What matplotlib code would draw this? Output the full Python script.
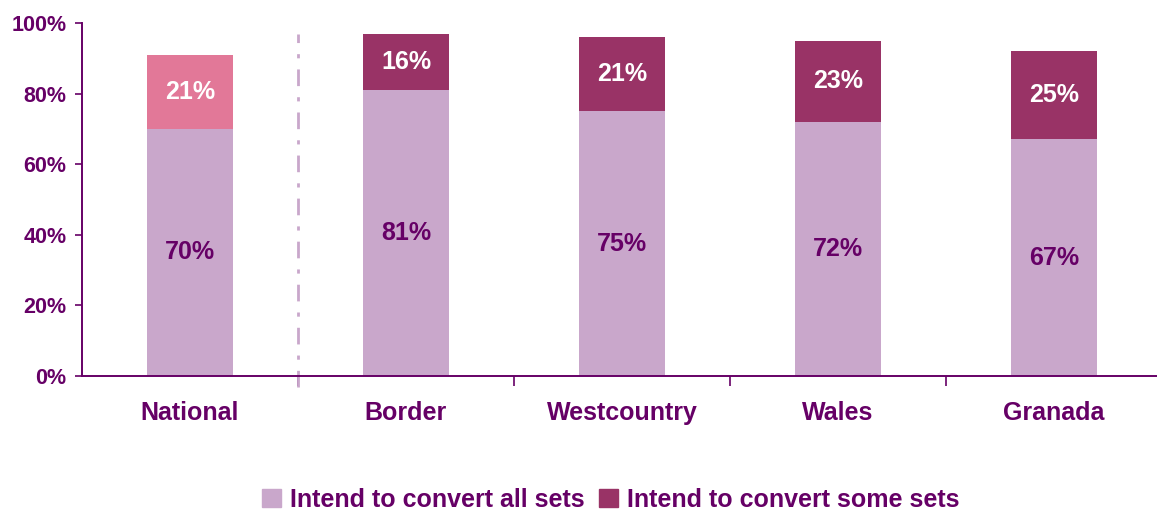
import matplotlib.pyplot as plt
from matplotlib.patches import Patch

plt.rcParams['font.family'] = ['Liberation Sans', 'DejaVu Sans']

# data
regions = ['National', 'Border', 'Westcountry', 'Wales', 'Granada']
convert_all = [70, 81, 75, 72, 67]
convert_some = [21, 16, 21, 23, 25]
y_ticks = [0, 20, 40, 60, 80, 100]

c_text = '#660066'
c_all = '#C9A7CB'
c_some = '#993366'
c_some_nat = '#E27898'

fig = plt.figure(figsize=(11.57, 5.11), dpi=100)
ax = fig.add_axes([82 / 1157, 135 / 511, 1080 / 1157, 353 / 511])

x = list(range(len(regions)))
some_cols = [c_some_nat] + [c_some] * (len(regions) - 1)
ax.bar(x, convert_all, width=0.4, color=c_all)
ax.bar(x, convert_some, width=0.4, bottom=convert_all, color=some_cols)

for xi, a, s in zip(x, convert_all, convert_some):
    ax.text(xi, a / 2, f'{a}%', ha='center', va='center', color=c_text,
            fontsize=18, fontweight='bold')
    ax.text(xi, a + s / 2, f'{s}%', ha='center', va='center', color='white',
            fontsize=18, fontweight='bold')

# separator between national and regions
ax.plot([0.5, 0.5], [-3, 97], color=c_all, lw=2, ls=(0, (6, 4, 1.5, 4)), clip_on=False)

ax.set_xlim(-0.5, len(regions) - 0.5)
ax.set_ylim(0, 100)
ax.set_yticks(y_ticks)
ax.set_yticklabels([f'{t}%' for t in y_ticks])
ax.set_xticks([i + 0.5 for i in range(len(regions) - 1)])
ax.set_xticklabels([])
ax.tick_params(axis='y', colors=c_text, labelsize=15.5, length=5, width=1.2, pad=6)
ax.tick_params(axis='x', colors=c_text, length=7, width=1.2, direction='out')
for lbl in ax.get_yticklabels():
    lbl.set_fontweight('bold')
for xi, name in zip(x, regions):
    ax.text(xi, -10.5, name, ha='center', va='center', color=c_text,
            fontsize=18, fontweight='bold')

for side in ['top', 'right']:
    ax.spines[side].set_visible(False)
for side in ['left', 'bottom']:
    ax.spines[side].set_color(c_text)
    ax.spines[side].set_linewidth(1.4)

handles = [Patch(color=c_all, label='Intend to convert all sets'),
           Patch(color=c_some, label='Intend to convert some sets')]
leg = fig.legend(handles=handles, loc='center', bbox_to_anchor=(0.528, 11 / 511), ncol=2,
                 frameon=False, handlelength=0.75, handleheight=0.75, handletextpad=0.35,
                 columnspacing=0.6, prop={'size': 18, 'weight': 'bold'})
for t in leg.get_texts():
    t.set_color(c_text)

fig.savefig('out.png', dpi=100)
